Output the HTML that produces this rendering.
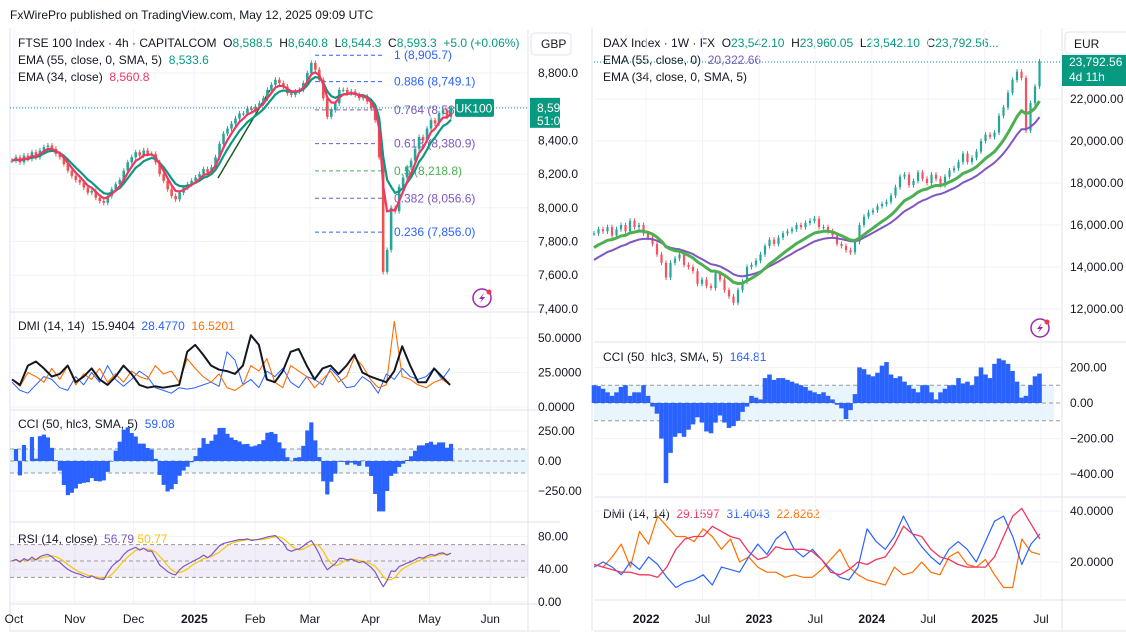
<!DOCTYPE html>
<html><head><meta charset="utf-8"><style>
html,body{margin:0;padding:0;background:#fff;width:1126px;height:638px;overflow:hidden}
svg{display:block;font-family:"Liberation Sans",sans-serif}
</style></head><body>
<svg id="c" width="1126" height="638" viewBox="0 0 1126 638" xmlns="http://www.w3.org/2000/svg"></svg>
<script>
// ---------- FTSE (left) data ----------
const ftseClose = [8280,8300,8270,8310,8290,8330,8300,8340,8360,8370,
8350,8320,8300,8260,8220,8190,8165,
8150,8120,8090,8100,8060,8040,
8030,8070,8110,8140,8165,
8220,8270,8300,8330,8310,8340,8320,8320,
8270,8200,8160,8110,8070,8050,
8090,8120,8140,8160,
8180,8200,8230,8210,8240,
8300,8380,8440,8470,8500,8530,8560,
8560,8590,8580,8600,8620,8650,8700,8730,8760,
8740,8720,8680,8670,8690,8700,
8740,8800,8860,8820,8760,
8650,8540,8580,8620,8700,
8700,8680,8690,8670,8650,8660,
8630,8590,8520,8300,
7620,7750,8000,7980,
8125,8180,8240,8280,8350,8420,
8400,8470,8520,8500,8560,8580,8540,8593];
const ftseAdx = [20,16,30,33,28,22,24,30,18,22,28,20,16,22,30,24,16,14,15,14,15,16,40,45,38,30,27,26,24,30,52,45,20,18,26,40,42,30,20,28,30,24,30,38,25,22,20,18,26,44,30,18,18,28,22,16];
const ftsePlusDi = [18,12,10,16,22,20,14,12,22,16,25,18,30,20,15,20,26,22,14,12,10,14,13,14,16,18,15,40,34,16,20,14,26,22,28,18,14,22,20,16,28,22,14,15,22,18,10,24,20,28,22,20,22,28,20,28];
const ftseMinusDi = [20,15,25,22,18,28,20,30,16,24,20,28,18,24,18,26,22,20,30,24,26,18,35,28,22,18,24,14,12,16,30,26,35,18,14,30,26,22,14,20,26,18,22,36,30,20,14,16,62,22,20,16,14,18,20,16];
const ftsePriceTicks = [8800,8600,8400,8200,8000,7800,7600,7400];
const ftsePriceTickLabels = ["8,800.0","8,600.0","8,400.0","8,200.0","8,000.0","7,800.0","7,600.0","7,400.0"];
const ftseMonths = ["Oct","Nov","Dec","2025","Feb","Mar","Apr","May","Jun"];
const ftseMonthDays = [0,31,61,92,123,151,182,212,243]; // days since Oct 1
const fibLevels = [1,0.886,0.764,0.618,0.5,0.382,0.236];
const fibPrices = [8905.7,8749.1,8581.1,8380.9,8218.8,8056.6,7856.0];
const fibColors = ["#2962ff","#2962ff","#7e57c2","#7e57c2","#4caf50","#7e57c2","#2962ff"];
// ---------- DAX (right) data ----------
const daxClose = [15600,15800,15700,15900,15500,15800,16000,15700,16200,15900,
16000,15600,15400,15100,14600,14200,13500,14200,14400,14600,14100,14000,13800,
13200,13400,13100,13000,13700,13400,12900,12600,12300,12900,13300,14000,
14100,14300,14600,15000,15300,15100,15400,15600,15700,15800,16000,15900,
16100,16200,16300,15900,15900,15700,15500,15100,15000,14800,14700,
15200,16000,16400,16600,16700,16900,17000,17100,17400,17800,18300,18400,
17900,18100,18500,18200,18000,18400,18200,17900,18300,18600,18700,19000,
19400,19000,19200,19500,20000,20300,20200,20400,21200,21600,22300,22900,
23300,23000,20500,21800,22600,23790];
const daxCci = [100,95,80,60,40,60,90,100,40,60,60,100,40,-20,-60,-200,-450,-280,-190,-170,-190,-150,-120,-80,-110,-160,-170,-110,-70,-110,-140,-130,-100,-50,-20,40,30,20,140,160,130,140,140,130,120,110,100,90,70,60,50,60,40,20,-10,-30,-90,-40,50,200,190,160,150,170,210,230,160,140,150,120,100,80,60,100,100,60,20,60,80,100,100,140,110,120,100,150,200,160,140,220,250,240,220,180,120,30,40,100,150,165];
const daxAdx = [19,18,17,16,16,15,15,14,18,25,29,30,30,34,32,30,29,24,21,22,26,25,25,25,24,21,16,15,17,20,19,21,22,27,34,31,30,25,22,21,19,18,18,18,22,30,38,41,35,29];
const daxPlusDi = [18,20,18,15,20,17,22,19,14,10,12,13,15,11,18,17,16,22,27,23,29,32,25,22,25,21,17,14,13,18,33,28,25,30,38,31,26,22,19,25,28,25,20,28,36,38,30,19,27,31];
const daxMinusDi = [19,18,22,27,18,32,27,38,34,30,30,28,33,30,25,29,20,22,18,16,16,14,15,14,14,17,21,25,18,15,13,12,11,18,15,16,20,16,15,22,24,19,18,21,15,10,10,29,24,23];
const daxEmaSeeds = [14800,14200];
const daxPriceTicks = [22000,20000,18000,16000,14000,12000];
const daxPriceTickLabels = ["22,000.00","20,000.00","18,000.00","16,000.00","14,000.00","12,000.00"];
const daxYears = ["2022","Jul","2023","Jul","2024","Jul","2025","Jul"];
const daxYearWeeks = [24,50,76,102,128,154,180,206]; // weeks since start

const svg=document.getElementById('c');
const NS="http://www.w3.org/2000/svg";
function el(tag,attrs,parent){const e=document.createElementNS(NS,tag);for(const k in attrs)e.setAttribute(k,attrs[k]);(parent||svg).appendChild(e);return e;}
function txt(x,y,s,fill,size,weight,anchor){const t=el('text',{x:x,y:y,fill:fill,'font-size':size||12});if(weight)t.setAttribute('font-weight',weight);if(anchor)t.setAttribute('text-anchor',anchor);t.textContent=s;return t;}
function poly(pts,color,w,dash){return el('polyline',{points:pts.map(p=>p[0].toFixed(1)+','+p[1].toFixed(1)).join(' '),fill:'none',stroke:color,'stroke-width':w,'stroke-linejoin':'round','stroke-dasharray':dash||'none'});}
function ema(arr,period,seed){const a=2/(period+1);let v=seed!==undefined?seed:arr[0];return arr.map(c=>(v=v+a*(c-v)));}

// ---------- header ----------
let h=txt(10,19,"FxWirePro published on TradingView.com, May 12, 2025 09:09 UTC","#131722",12);



// ---------- LEFT scales ----------
const nL=ftseClose.length;
const xL=i=>12+i*(439/(nL-1));
const yP=p=>73+(8800-p)*0.1685;
const yDL=v=>407-v*1.38;
const yCL=v=>461-v*0.12;
const yRL=v=>602-v*0.82;
const xDay=d=>14+d*1.96;

// grid
const gL=el('g',{});


ftseMonthDays.forEach(d=>el('line',{x1:xDay(d),x2:xDay(d),y1:30,y2:604,stroke:'#f0f3fa'},gL));
ftsePriceTicks.forEach(p=>el('line',{x1:10,x2:528,y1:yP(p),y2:yP(p),stroke:'#f0f3fa'},gL));
[0,25,50].forEach(v=>el('line',{x1:10,x2:528,y1:yDL(v),y2:yDL(v),stroke:'#f0f3fa'},gL));
[0,40,80].forEach(v=>el('line',{x1:10,x2:528,y1:yRL(v),y2:yRL(v),stroke:'#f0f3fa'},gL));
[-250,250].forEach(v=>el('line',{x1:10,x2:528,y1:yCL(v),y2:yCL(v),stroke:'#f0f3fa'},gL));

// separators
[[10,560,312],[10,560,410],[10,560,522],[10,560,604],[10,560,631],[594,1126,342],[594,1126,497],[594,1126,600],[594,1126,631]].forEach(s=>{
 const l=el('line',{x1:s[0],x2:s[1],y1:s[2],y2:s[2],stroke:'#e0e3eb'});
 
 });
[[528,30,631],[1062,28,631],[592,28,631],[10,28,631]].forEach(s=>{
 const l=el('line',{x1:s[0],x2:s[0],y1:s[1],y2:s[2],stroke:'#e0e3eb'});
 
 });

// fib
fibLevels.forEach((lv,k)=>{
 const y=yP(fibPrices[k]);
 const l=el('line',{x1:315,x2:383,y1:y,y2:y,stroke:fibColors[k],'stroke-dasharray':'4 3'});
 
 
 const t=txt(394,y+4,lv+" ("+fibPrices[k].toLocaleString('en-US',{minimumFractionDigits:1})+")",fibColors[k],12);
 
 
});
// trendline
let tl=el('line',{x1:218,y1:178,x2:270,y2:90,stroke:'#1b5e20','stroke-width':1.5});



// candles
const cg=el('g',{});


ftseClose.forEach((c,i)=>{
 const o=i?ftseClose[i-1]:c;const up=c>=o;const col=up?'#26a69a':'#ef5350';
 const hi=Math.max(o,c)+15,lo=Math.min(o,c)-15;
 el('line',{x1:xL(i),x2:xL(i),y1:yP(hi),y2:yP(lo),stroke:col,'stroke-width':1},cg);
 const y1=yP(Math.max(o,c)),y2=yP(Math.min(o,c));
 el('rect',{x:xL(i)-1.3,y:y1,width:2.6,height:Math.max(1,y2-y1),fill:col},cg);
});
const emaG=ema(ftseClose,7),emaR=ema(ftseClose,4);
let e1=poly(emaG.map((v,i)=>[xL(i),yP(v)]),'#089981',2.2);


let e2=poly(emaR.map((v,i)=>[xL(i),yP(v)]),'#f23661',2.2);


// last price line
let lp=el('line',{x1:10,x2:528,y1:yP(8593.3),y2:yP(8593.3),stroke:'#089981','stroke-dasharray':'1 2'});


let ub=el('rect',{x:455,y:yP(8593.3)-9,width:39,height:18,rx:2,fill:'#089981'});


txt(474,yP(8593.3)+4.5,"UK100","#fff",12,null,'middle');
let pb=el('rect',{x:530,y:yP(8593.3)-10,width:30,height:30,fill:'#089981'});


txt(537,yP(8593.3)+4,"8,593.3","#fff",12);
txt(537,yP(8593.3)+17,"51:00","#fff",12);

// legends
let lg=el('g',{});


[[18,47,[["FTSE 100 Index · 4h · CAPITALCOM  O","#131722"],["8,588.5","#089981"],["  H","#131722"],["8,640.8","#089981"],["  L","#131722"],["8,544.3","#089981"],["  C","#131722"],["8,593.3  +5.0 (+0.06%)","#089981"]]],
 [18,64,[["EMA (55, close, 0, SMA, 5)  ","#131722"],["8,533.6","#089981"]]],
 [18,81,[["EMA (34, close)  ","#131722"],["8,560.8","#f23661"]]],
 [18,330,[["DMI (14, 14)  ","#131722"],["15.9404  ","#131722"],["28.4770  ","#2962ff"],["16.5201","#ff6d00"]]],
 [18,428,[["CCI (50, hlc3, SMA, 5)  ","#131722"],["59.08","#2962ff"]]],
 [18,543,[["RSI (14, close)  ","#131722"],["56.79 ","#7e57c2"],["50.77","#f7c600"]]],
 [603,47,[["DAX Index · 1W · FX  O","#131722"],["23,542.10","#089981"],["  H","#131722"],["23,960.05","#089981"],["  L","#131722"],["23,542.10","#089981"],["  C","#131722"],["23,792.56...","#089981"]]],
 [603,64,[["EMA (55, close, 0)  ","#131722"],["20,322.66","#7e57c2"]]],
 [603,81,[["EMA (34, close, 0, SMA, 5)","#131722"]]],
 [603,361,[["CCI (50, hlc3, SMA, 5)  ","#131722"],["164.81","#2962ff"]]],
 [603,518,[["DMI (14, 14)  ","#131722"],["29.1597  ","#f23661"],["31.4043  ","#2962ff"],["22.8262","#ff6d00"]]]
].forEach(r=>{const t=el('text',{x:r[0],y:r[1],'font-size':12,'xml:space':'preserve'},lg);t.style.whiteSpace='pre';
 r[2].forEach(s=>{const sp=el('tspan',{fill:s[1]},t);sp.textContent=s[0];});});

// price axis labels left
ftsePriceTicks.forEach((p,k)=>{if(k===1)return;const t=txt(538,yP(p)+4,ftsePriceTickLabels[k],"#131722",12);
 
 });
let gbp=el('rect',{x:531,y:33,width:40,height:22,rx:4,fill:'#fff',stroke:'#e0e3eb'});


txt(541,48,"GBP","#131722",12);

// DMI left
let d1=poly(ftsePlusDi.map((v,i)=>[12+i*(438/(ftsePlusDi.length-1)),yDL(v)]),'#2962ff',1);


let d2=poly(ftseMinusDi.map((v,i)=>[12+i*(438/(ftseMinusDi.length-1)),yDL(v)]),'#ff6d00',1.1);


let d3=poly(ftseAdx.map((v,i)=>[12+i*(438/(ftseAdx.length-1)),yDL(v)]),'#131722',2);


[["50.0000",50],["25.0000",25],["0.0000",0]].forEach(a=>txt(538,yDL(a[1])+4,a[0],"#131722",12));

// CCI left (computed from closes)
let bandC=el('rect',{x:10,y:yCL(100),width:518,height:yCL(-100)-yCL(100),fill:'#e3f2fd',opacity:0.8});


[100,0,-100].forEach(v=>el('line',{x1:10,x2:528,y1:yCL(v),y2:yCL(v),stroke:'#999','stroke-dasharray':'4 3'}));
const cciN=12;
const ftseCci=ftseClose.map((c,i)=>{const s=ftseClose.slice(Math.max(0,i-cciN+1),i+1);const m=s.reduce((a,b)=>a+b,0)/s.length;const md=s.reduce((a,b)=>a+Math.abs(b-m),0)/s.length||1;return Math.max(-420,Math.min(330,(c-m)/(0.015*md)*1.5));});
const cgL=el('g',{});


ftseCci.forEach((v,i)=>{const y0=yCL(0),y1=yCL(v);el('rect',{x:xL(i)-2.1,y:Math.min(y0,y1),width:4.2,height:Math.abs(y1-y0),fill:'#2962ff'},cgL);});
[["250.00",250],["0.00",0],["−250.00",-250]].forEach(a=>txt(538,yCL(a[1])+4,a[0],"#131722",12));

// RSI left
let bandR=el('rect',{x:10,y:yRL(70),width:518,height:yRL(30)-yRL(70),fill:'#7e57c2',opacity:0.1});


[70,50,30].forEach(v=>el('line',{x1:10,x2:528,y1:yRL(v),y2:yRL(v),stroke:'#999','stroke-dasharray':'4 3'}));
const rsiN=10;let ag=20,al=20;
const ftseRsiRaw=ftseClose.map((c,i)=>{if(!i)return 50;const d=c-ftseClose[i-1];ag=(ag*(rsiN-1)+Math.max(d,0))/rsiN;al=(al*(rsiN-1)+Math.max(-d,0))/rsiN;return al===0?80:100-100/(1+ag/al);});
const ftseRsi=ftseRsiRaw.map(v=>50+(v-50)*0.75);
const rsiSma=ftseRsi.map((v,i)=>{const s=ftseRsi.slice(Math.max(0,i-3),i+1);return s.reduce((a,b)=>a+b,0)/s.length;});
let r1=poly(rsiSma.map((v,i)=>[xL(i),yRL(v)]),'#f7c600',1.2);


let r2=poly(ftseRsi.map((v,i)=>[xL(i),yRL(v)]),'#7e57c2',1.2);


[["80.00",80],["40.00",40],["0.00",0]].forEach(a=>txt(538,yRL(a[1])+4,a[0],"#131722",12));
// x labels left
ftseMonths.forEach((m,k)=>{const t=txt(xDay(ftseMonthDays[k]),623,m,"#131722",12,m==="2025"?"bold":null,'middle');
 
 });

// ---------- RIGHT ----------
const xR=i=>594+i*4.5;
const yPR=p=>99+(22000-p)*0.021;
const yCR=v=>403-v*0.178;
const yDR=v=>562-(v-20)*2.55;
const xW=w=>594+w*2.17;
const gR=el('g',{});


daxYearWeeks.forEach(w=>el('line',{x1:xW(w),x2:xW(w),y1:30,y2:600,stroke:'#f0f3fa'},gR));
daxPriceTicks.forEach(p=>el('line',{x1:594,x2:1062,y1:yPR(p),y2:yPR(p),stroke:'#f0f3fa'},gR));
[-200,-400,200].forEach(v=>el('line',{x1:594,x2:1062,y1:yCR(v),y2:yCR(v),stroke:'#f0f3fa'},gR));
[20,40].forEach(v=>el('line',{x1:594,x2:1062,y1:yDR(v),y2:yDR(v),stroke:'#f0f3fa'},gR));

const cgR=el('g',{});


daxClose.forEach((c,i)=>{
 const o=i?daxClose[i-1]:c;const up=c>=o;const col=up?'#26a69a':'#f7525f';
 const hi=Math.max(o,c)+120,lo=Math.min(o,c)-120;
 el('line',{x1:xR(i),x2:xR(i),y1:yPR(hi),y2:yPR(lo),stroke:col,'stroke-width':1},cgR);
 const y1=yPR(Math.max(o,c)),y2=yPR(Math.min(o,c));
 el('rect',{x:xR(i)-1.1,y:y1,width:2.2,height:Math.max(1,y2-y1),fill:col},cgR);
});
const dG=ema(daxClose,12,daxEmaSeeds[0]),dP=ema(daxClose,20,daxEmaSeeds[1]);
let e3=poly(dP.map((v,i)=>[xR(i),yPR(v)]),'#7e57c2',2);


let e4=poly(dG.map((v,i)=>[xR(i),yPR(v)]),'#4caf50',3);


let lp2=el('line',{x1:594,x2:1062,y1:62,y2:62,stroke:'#089981','stroke-dasharray':'1 2'});


let pb2=el('rect',{x:1062,y:55,width:64,height:31,fill:'#089981'});


txt(1069,66,"23,792.56","#fff",12);
txt(1069,81,"4d 11h","#fff",12);
let eur=el('rect',{x:1065,y:32,width:70,height:22,rx:4,fill:'#fff',stroke:'#e0e3eb'});


txt(1074,48,"EUR","#131722",12);
daxPriceTicks.forEach((p,k)=>{const t=txt(1070,yPR(p)+4,daxPriceTickLabels[k],"#131722",12);
 
 });

// CCI right
let bandC2=el('rect',{x:594,y:yCR(100),width:460,height:yCR(-100)-yCR(100),fill:'#e3f2fd',opacity:0.8});


[100,0,-100].forEach(v=>el('line',{x1:594,x2:1062,y1:yCR(v),y2:yCR(v),stroke:'#999','stroke-dasharray':'4 3'}));
const cgR2=el('g',{});


daxCci.forEach((v,i)=>{const y0=yCR(0),y1=yCR(v);el('rect',{x:xR(i)-2.3,y:Math.min(y0,y1),width:4.6,height:Math.abs(y1-y0),fill:'#2962ff'},cgR2);});
[["200.00",200],["0.00",0],["−200.00",-200],["−400.00",-400]].forEach(a=>txt(1070,yCR(a[1])+4,a[0],"#131722",12));

// DMI right
const xD=(i,n)=>594+i*(446/(n-1));
let d4=poly(daxMinusDi.map((v,i)=>[xD(i,daxMinusDi.length),yDR(v)]),'#ff6d00',1.2);


let d5=poly(daxPlusDi.map((v,i)=>[xD(i,daxPlusDi.length),yDR(v)]),'#2962ff',1.2);


let d6=poly(daxAdx.map((v,i)=>[xD(i,daxAdx.length),yDR(v)]),'#f23661',1.3);


[["40.0000",40],["20.0000",20]].forEach(a=>txt(1070,yDR(a[1])+4,a[0],"#131722",12));
daxYears.forEach((m,k)=>{const t=txt(xW(daxYearWeeks[k]),623,m,"#131722",12,m==="Jul"?null:"bold",'middle');
 
 });

// lightning icons
[[482,298],[1040,328]].forEach(p=>{const g=el('g',{});
 
 
 el('circle',{cx:p[0],cy:p[1],r:9,fill:'#fff',stroke:'#9c27b0','stroke-width':1.5},g);
 el('path',{d:`M${p[0]+2} ${p[1]-5} L${p[0]-3} ${p[1]+1} L${p[0]} ${p[1]+1} L${p[0]-2} ${p[1]+5} L${p[0]+3} ${p[1]-1} L${p[0]} ${p[1]-1} Z`,fill:'#9c27b0'},g);
 el('circle',{cx:p[0]+7,cy:p[1]-6,r:2.5,fill:'#f23645'},g);});
</script>
</body></html>
